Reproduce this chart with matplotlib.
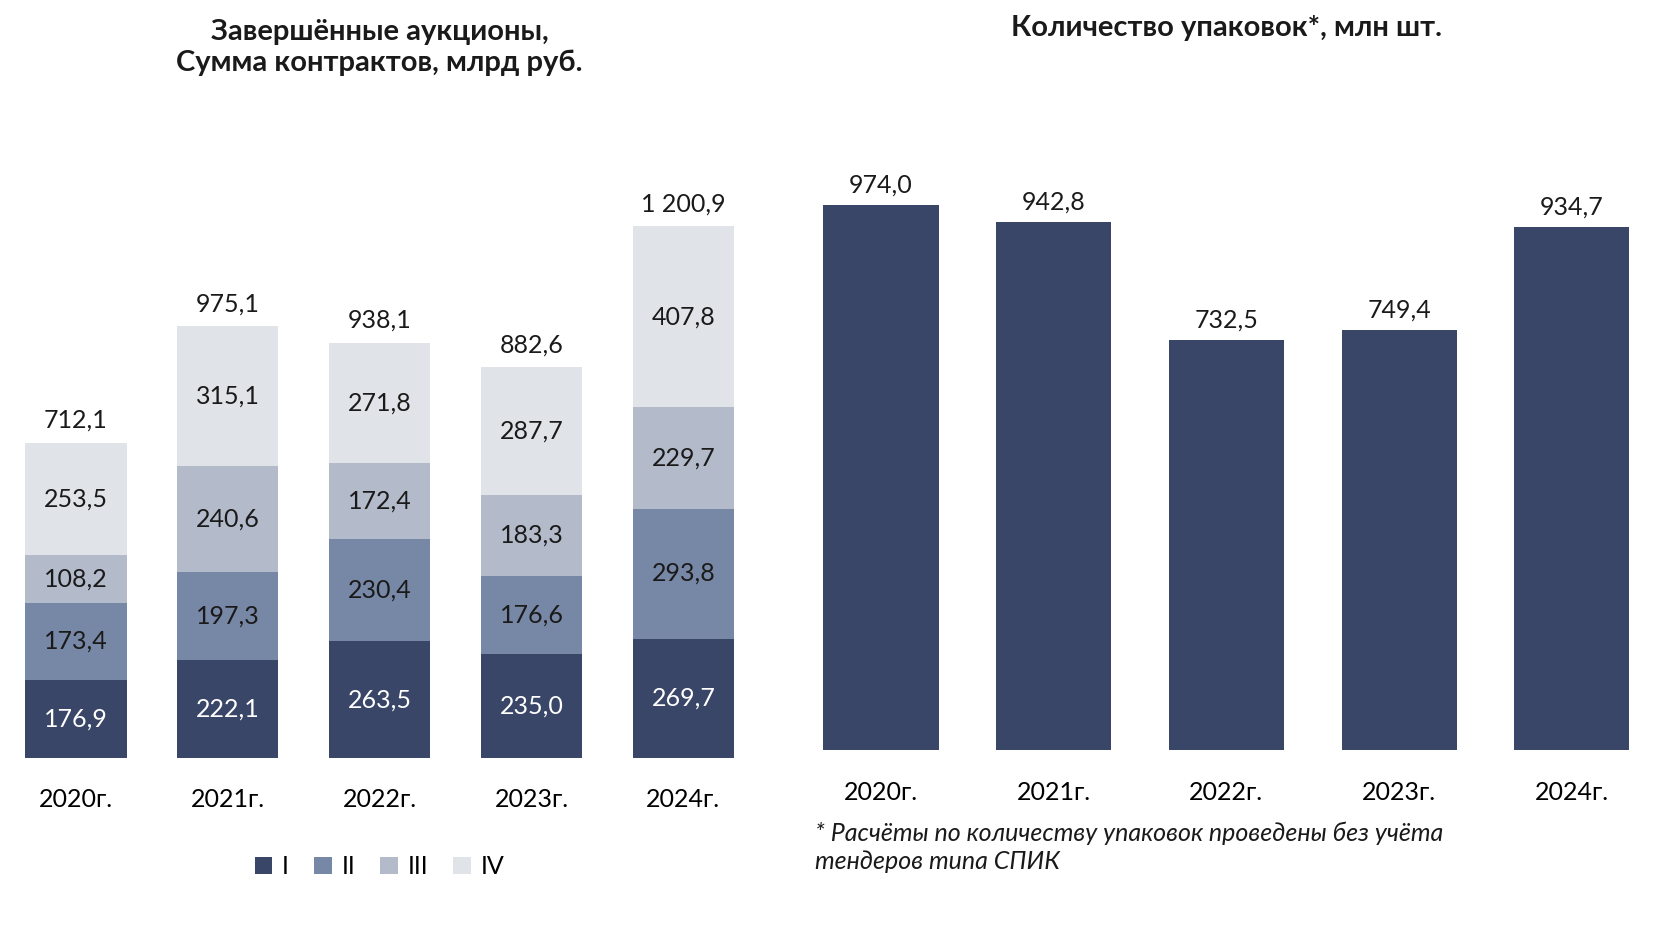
import matplotlib
matplotlib.use("Agg")
import matplotlib.pyplot as plt
import numpy as np

plt.rcParams['font.family'] = ['Lato', 'DejaVu Sans']

years = ["2020г.", "2021г.", "2022г.", "2023г.", "2024г."]
q1 = [176.9, 222.1, 263.5, 235.0, 269.7]
q2 = [173.4, 197.3, 230.4, 176.6, 293.8]
q3 = [108.2, 240.6, 172.4, 183.3, 229.7]
q4 = [253.5, 315.1, 271.8, 287.7, 407.8]
totals = ["712,1", "975,1", "938,1", "882,6", "1 200,9"]
packs = [974.0, 942.8, 732.5, 749.4, 934.7]

colors = ["#3a4668", "#7787a6", "#b3bac9", "#e0e3e8"]
txt_colors = ["white", "#1a1a1a", "#1a1a1a", "#1a1a1a"]
fmt = lambda v: f"{v:.1f}".replace(".", ",")

fig = plt.figure(figsize=(16.8, 9.34), dpi=100)

# left: stacked contracts
ax1 = fig.add_axes([0.0, 0.1885, 0.452, 0.616])
x = np.arange(len(years))
bottom = np.zeros(len(years))
for vals, c, tc, name in zip([q1, q2, q3, q4], colors, txt_colors, ["I", "II", "III", "IV"]):
    ax1.bar(x, vals, 0.667, bottom=bottom, color=c, label=name)
    for xi, b, v in zip(x, bottom, vals):
        ax1.text(xi, b + v / 2, fmt(v), ha="center", va="center", fontsize=18, color=tc)
    bottom += np.array(vals)
for xi, b, t in zip(x, bottom, totals):
    ax1.text(xi, b + 25, t, ha="center", va="bottom", fontsize=18, color="#1a1a1a")
ax1.set_xlim(-0.5, 4.5)
ax1.set_ylim(0, 1300)
ax1.set_xticks(x, years, fontsize=18)
ax1.tick_params(length=0, pad=22)
ax1.set_yticks([])
for s in ax1.spines.values():
    s.set_visible(False)
ax1.set_title("Завершённые аукционы,\nСумма контрактов, млрд руб.", fontsize=21,
              fontweight="bold", y=1.18, color="#1a1a1a")
ax1.legend(loc="upper center", bbox_to_anchor=(0.5, -0.13), ncol=4, frameon=False,
           fontsize=18, handlelength=0.7, handleheight=0.7, columnspacing=1.0,
           handletextpad=0.4)

# right: packages
ax2 = fig.add_axes([0.473, 0.1966, 0.514, 0.66])
ax2.bar(x, packs, 0.667, color=colors[0])
for xi, v in zip(x, packs):
    ax2.text(xi, v + 15, fmt(v), ha="center", va="bottom", fontsize=18, color="#1a1a1a")
ax2.set_xlim(-0.5, 4.5)
ax2.set_ylim(0, 1100)
ax2.set_xticks(x, years, fontsize=18)
ax2.tick_params(length=0, pad=22)
ax2.set_yticks([])
for s in ax2.spines.values():
    s.set_visible(False)
ax2.set_title("Количество упаковок*, млн шт.", fontsize=21, fontweight="bold",
              y=1.145, color="#1a1a1a")

fig.text(0.485, 0.065, "* Расчёты по количеству упаковок проведены без учёта\nтендеров типа СПИК",
         fontsize=18, style="italic", color="#1a1a1a", ha="left", va="bottom",
         linespacing=1.3)

fig.savefig("out.png", dpi=100, facecolor="white")
